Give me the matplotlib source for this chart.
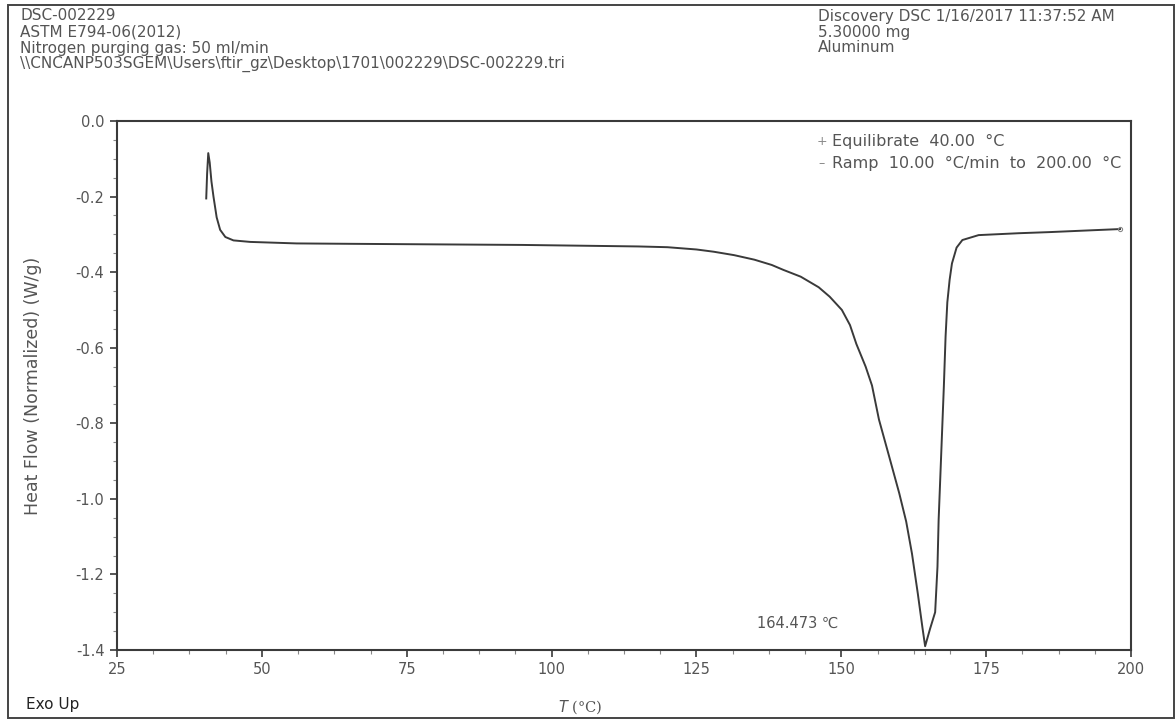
import matplotlib
matplotlib.use("Agg")
import matplotlib.pyplot as plt
from matplotlib.ticker import MultipleLocator, AutoMinorLocator
from matplotlib.patches import Rectangle

plt.rcParams['font.family'] = ['DejaVu Sans']

# DSC trace: temperature (C) and heat flow (W/g)
TEMP = [40.40, 40.55, 40.75, 41.0, 41.3, 41.65, 42.2, 42.8, 43.7, 45.1,
        48.0, 52.0, 56.0, 65.0, 75.0, 85.0, 95.0, 105.0, 110.0, 115.0,
        120.0, 125.0, 128.0, 131.5, 135.0, 138.0, 140.0, 143.0, 146.1, 148.0,
        150.1, 151.5, 152.6, 154.2, 155.3, 156.5, 158.3, 160.0, 161.2, 162.2,
        163.2, 164.0, 164.47, 165.3, 166.2, 166.6, 166.8, 167.3, 167.7, 168.0,
        168.3, 168.7, 169.1, 169.9, 170.9, 173.7, 180.6, 186.0, 192.0, 198.1]
HEAT_FLOW = [-0.205, -0.14, -0.085, -0.11, -0.16, -0.20, -0.255, -0.288, -0.307, -0.316,
             -0.320, -0.322, -0.324, -0.325, -0.326, -0.327, -0.328, -0.330, -0.331, -0.332,
             -0.334, -0.340, -0.346, -0.355, -0.367, -0.381, -0.394, -0.412, -0.440, -0.465,
             -0.500, -0.540, -0.590, -0.650, -0.700, -0.790, -0.890, -0.985, -1.060, -1.145,
             -1.250, -1.340, -1.390, -1.345, -1.300, -1.180, -1.056, -0.860, -0.703, -0.570,
             -0.480, -0.420, -0.377, -0.335, -0.315, -0.302, -0.297, -0.294, -0.290, -0.286]

PEAK_T = 164.473
PEAK_LABEL = "164.473 \u2103"

HEADER_LEFT = ["DSC-002229",
               "ASTM E794-06(2012)",
               "Nitrogen purging gas: 50 ml/min",
               "\\\\CNCANP503SGEM\\Users\\ftir_gz\\Desktop\\1701\\002229\\DSC-002229.tri"]
HEADER_RIGHT = ["Discovery DSC 1/16/2017 11:37:52 AM",
                "5.30000 mg",
                "Aluminum"]
SEGMENTS = ["Equilibrate  40.00  \u00b0C",
            "Ramp  10.00  \u00b0C/min  to  200.00  \u00b0C"]

TXT = '#555555'
INK = '#3a3a3a'

fig = plt.figure(figsize=(11.76, 7.21), dpi=100)
ax = fig.add_axes([117/1176, 1 - 650/721, (1131 - 117)/1176, (650 - 121)/721])

ax.plot(TEMP, HEAT_FLOW, color=INK, lw=1.4)
ax.plot(TEMP[-1], HEAT_FLOW[-1], marker='o', ms=3, mfc='none', mec='#888888', mew=0.8)

ax.set_xlim(25, 200)
ax.set_ylim(-1.4, 0.0)
ax.xaxis.set_major_locator(MultipleLocator(25))
ax.xaxis.set_minor_locator(AutoMinorLocator(4))
ax.yaxis.set_major_locator(MultipleLocator(0.2))
ax.yaxis.set_minor_locator(AutoMinorLocator(4))
ax.yaxis.set_major_formatter(plt.FuncFormatter(lambda v, p: "%.1f" % v))
ax.tick_params(which='major', direction='out', length=5, width=1.2, color=INK,
               labelsize=10.5, labelcolor=TXT, pad=4)
ax.tick_params(which='minor', direction='out', length=3, width=0.8, color='#888888')
for s in ax.spines.values():
    s.set_color(INK)
    s.set_linewidth(1.5)

# peak marker tick and label
ax.plot([PEAK_T, PEAK_T], [-1.4, -1.41], color='#888888', lw=0.8, clip_on=False)
ax.text(149.5, -1.33, PEAK_LABEL, ha='right', va='center',
        fontsize=10.5, color=TXT)

# procedure segments
ax.text(0.695, 0.961, "+", transform=ax.transAxes, fontsize=9, color='#888888',
        ha='center', va='center')
ax.text(0.695, 0.919, "\u2013", transform=ax.transAxes, fontsize=9, color='#888888',
        ha='center', va='center')
for i, s in enumerate(SEGMENTS):
    ax.text(0.705, 0.961 - i * 0.042, s, transform=ax.transAxes, fontsize=11.5,
            color=TXT, ha='left', va='center')

ax.set_ylabel("Heat Flow (Normalized) (W/g)", fontsize=12.5, color=TXT, labelpad=24)
fig.text(580/1176, 1 - 707/721, "$T$ (\u00b0C)", fontsize=10.5, color=TXT,
         ha='center', va='center', family=['DejaVu Serif'])
fig.text(26/1176, 1 - 704/721, "Exo Up", fontsize=11, color='#222222',
         ha='left', va='center')

for i, line in enumerate(HEADER_LEFT):
    fig.text(20/1176, 1 - (16 + i * 16)/721, line, fontsize=11, color=TXT,
             ha='left', va='center')
for i, line in enumerate(HEADER_RIGHT):
    fig.text(818/1176, 1 - (16 + i * 16)/721, line, fontsize=11, color=TXT,
             ha='left', va='center')

# page frame
fig.add_artist(Rectangle((8/1176, 1 - 718/721), (1174 - 8)/1176, (718 - 5)/721,
                         transform=fig.transFigure, fill=False, ec='#444444', lw=1.4))

fig.savefig("out.png", dpi=100)
